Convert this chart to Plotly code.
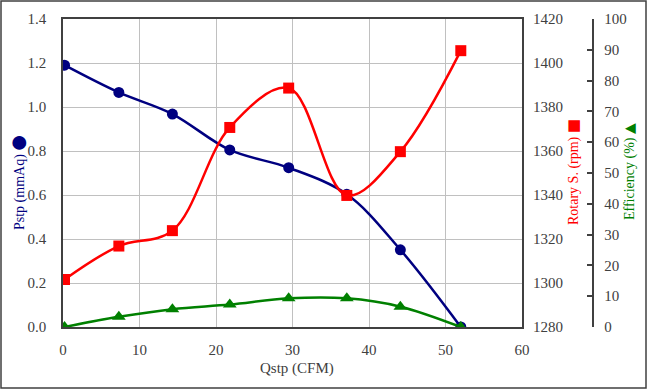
import plotly.graph_objects as go

# Data
qstp = [0.2, 7.3, 14.3, 21.8, 29.5, 37.1, 44.1, 52.0]
pstp = [1.19, 1.066, 0.968, 0.805, 0.724, 0.603, 0.351, 0.0]
rpm = [1301.6, 1316.8, 1323.8, 1370.7, 1388.6, 1339.8, 1359.7, 1405.6]
eff = [0.0, 3.3, 5.8, 7.3, 9.3, 9.3, 6.6, 0.0]

x_ticks = [0, 10, 20, 30, 40, 50, 60]

FONT = "Liberation Serif"
TXT = "#404040"
BLUE = "#000080"
RED = "#FF0000"
GREEN = "#008000"

fig = go.Figure()

fig.add_trace(go.Scatter(
    x=qstp, y=pstp, mode="lines+markers", yaxis="y",
    line=dict(color=BLUE, width=2.5, shape="spline"),
    marker=dict(symbol="circle", size=11, color=BLUE),
    showlegend=False))
fig.add_trace(go.Scatter(
    x=qstp, y=rpm, mode="lines+markers", yaxis="y2",
    line=dict(color=RED, width=2.5, shape="spline"),
    marker=dict(symbol="square", size=11, color=RED),
    showlegend=False))
fig.add_trace(go.Scatter(
    x=qstp, y=eff, mode="lines+markers", yaxis="y3",
    line=dict(color=GREEN, width=2.5, shape="spline"),
    marker=dict(symbol="triangle-up", size=12, color=GREEN),
    showlegend=False))

L, R = 63, 40
W, H = 647, 390
pw = W - L - R
dom_end = (522 - L) / pw
pos3 = (592.5 - L) / pw

SYM = "DejaVu Sans"

fig.update_layout(
    width=W, height=H,
    margin=dict(l=L, r=R, t=19, b=63, autoexpand=False),
    paper_bgcolor="white", plot_bgcolor="white",
    font=dict(family=FONT, size=14, color=TXT),
    xaxis=dict(
        domain=[0, dom_end], range=[0, 60], tickvals=x_ticks,
        automargin=False,
        showgrid=True, gridcolor="#c0c0c0", gridwidth=1,
        showline=True, linecolor="#404040", linewidth=1.5, mirror=True,
        zeroline=False, ticks="", ticklabelstandoff=8,
        tickfont=dict(family=FONT, size=15, color=TXT)),
    yaxis=dict(
        range=[0, 1.4], dtick=0.2, tickformat=".1f", automargin=False,
        showgrid=True, gridcolor="#c0c0c0", gridwidth=1,
        showline=True, linecolor="#404040", linewidth=1.5, mirror=True,
        zeroline=False, ticks="", ticklabelstandoff=12,
        tickfont=dict(family=FONT, size=15, color=TXT)),
    yaxis2=dict(
        overlaying="y", side="right", anchor="x", automargin=False,
        range=[1280, 1420], dtick=20,
        showgrid=False, showline=False, zeroline=False, ticks="",
        ticklabelstandoff=10,
        tickfont=dict(family=FONT, size=15, color=TXT)),
    yaxis3=dict(
        overlaying="y", side="right", anchor="free", position=pos3,
        automargin=False, autoshift=False,
        range=[0, 100], dtick=10,
        showgrid=False, showline=True, linecolor="#404040", linewidth=1.5,
        zeroline=False, ticks="inside", ticklen=5, tickwidth=1.5,
        tickcolor="#404040", ticklabelstandoff=8,
        tickfont=dict(family=FONT, size=15, color=TXT)),
    annotations=[
        dict(text=f"Pstp (mmAq) <span style='font-family:{SYM};font-size:18px'>●</span>",
             xref="paper", yref="paper", x=(17 - L) / pw, y=1 - (183 - 19) / 308,
             showarrow=False, textangle=-90, xanchor="center", yanchor="middle",
             font=dict(family=FONT, size=14, color=BLUE)),
        dict(text=f"Rotary S. (rpm) <span style='font-family:{SYM};font-size:15px'>■</span>",
             xref="paper", yref="paper", x=(573 - L) / pw, y=1 - (172 - 19) / 308,
             showarrow=False, textangle=-90, xanchor="center", yanchor="middle",
             font=dict(family=FONT, size=14, color=RED)),
        dict(text=f"Efficiency (%) <span style='font-family:{SYM};font-size:14px'>▲</span>",
             xref="paper", yref="paper", x=(629 - L) / pw, y=1 - (172 - 19) / 308,
             showarrow=False, textangle=-90, xanchor="center", yanchor="middle",
             font=dict(family=FONT, size=14, color=GREEN)),
        dict(text="Qstp (CFM)",
             xref="paper", yref="paper", x=(297 - L) / pw, y=-(368 - 327) / 308,
             showarrow=False, xanchor="center", yanchor="middle",
             font=dict(family=FONT, size=15, color=TXT)),
    ],
    shapes=[
        dict(type="rect", xref="paper", yref="paper",
             x0=(1 - L) / pw, x1=(646 - L) / pw,
             y0=-(388 - 327) / 308, y1=1 + (19 - 1) / 308,
             line=dict(color="#404040", width=1.5), fillcolor="rgba(0,0,0,0)",
             layer="below"),
    ],
)

fig.write_html("out.html",
               config={"displayModeBar": False},
               post_script="document.body.style.margin='0';document.body.style.padding='0';")
